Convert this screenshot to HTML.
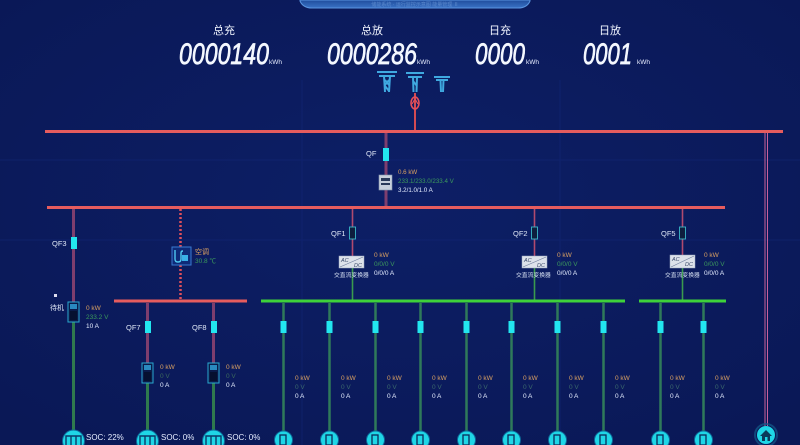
<!DOCTYPE html>
<html><head><meta charset="utf-8">
<style>
html,body{margin:0;padding:0;background:#0b1a5c;}
svg{display:block;}
text{font-family:"Liberation Sans","Noto Sans CJK SC",sans-serif;}
</style></head>
<body>
<svg width="800" height="445" viewBox="0 0 800 445" xmlns="http://www.w3.org/2000/svg">
<defs>
<radialGradient id="bg" cx="50%" cy="45%" r="70%">
<stop offset="0" stop-color="#0d1f66"/><stop offset="1" stop-color="#0a1856"/>
</radialGradient>
<linearGradient id="hdr" x1="0" y1="0" x2="0" y2="1">
<stop offset="0" stop-color="#1f4c9c"/><stop offset="1" stop-color="#3a72c4"/>
</linearGradient>
</defs>
<rect width="800" height="445" fill="url(#bg)"/>
<g stroke="#13287a" stroke-width="1" opacity="0.5">
<line x1="302" y1="80" x2="302" y2="445"/><line x1="0" y1="160" x2="800" y2="160"/>
<line x1="0" y1="240" x2="800" y2="240"/><line x1="560" y1="80" x2="560" y2="445"/>
</g>

<path d="M300,0 L530,0 L530,1 Q527,8 518,8 L312,8 Q303,8 300,1 Z" fill="url(#hdr)" stroke="#5a94e0" stroke-width="1"/>
<text x="415" y="6" font-size="5" fill="#6e9ad8" text-anchor="middle" opacity="0.7">储能系统 · 运行监控示意图 能量管理 Ⅱ</text>

<g fill="#f2f6ff" font-size="11" text-anchor="middle">
<text x="224" y="34">总充</text>
<text x="372" y="34">总放</text>
<text x="500" y="34">日充</text>
<text x="610" y="34">日放</text>
</g>
<g fill="#f4f8ff" font-size="30" font-style="italic" stroke="#f4f8ff" stroke-width="0.7">
<text x="179" y="64" textLength="90" lengthAdjust="spacingAndGlyphs">0000140</text>
<text x="327" y="64" textLength="90" lengthAdjust="spacingAndGlyphs">0000286</text>
<text x="475" y="64" textLength="50" lengthAdjust="spacingAndGlyphs">0000</text>
<text x="583" y="64" textLength="49" lengthAdjust="spacingAndGlyphs">0001</text>
</g>
<g fill="#e8eeff" font-size="6.5">
<text x="269" y="64">kWh</text>
<text x="417" y="64">kWh</text>
<text x="526" y="64">kWh</text>
<text x="637" y="64">kWh</text>
</g>

<g fill="none" stroke="#3fa8e0" stroke-width="2">
<path d="M377,72 L397,72 M379,76 L395,76 M384,76 L385,92 M390,76 L389,92 M385,80 L389,85 M389,80 L385,85 M385,86 L389,91"/>
<path d="M406,73 L424,73 M408,77 L422,77 M413,77 L413.5,92 M417,77 L416.5,92 M413,81 L417,86"/>
<path d="M434,77 L450,77 M436,80 L448,80 M440.5,80 L441,92 M443.5,80 L443,92"/>
</g>
<line x1="415" y1="93" x2="415" y2="131" stroke="#d24a52" stroke-width="2"/>
<ellipse cx="415" cy="103" rx="4" ry="6" fill="none" stroke="#e8505a" stroke-width="1.6"/>
<path d="M412,104 L415,99 L418,104" fill="none" stroke="#e8505a" stroke-width="1.2"/>

<line x1="45" y1="131.5" x2="783" y2="131.5" stroke="#e65c5e" stroke-width="3"/>
<line x1="47" y1="207.5" x2="725" y2="207.5" stroke="#e65c5e" stroke-width="3"/>
<line x1="765" y1="133" x2="765" y2="426" stroke="#c8609a" stroke-width="1"/>
<line x1="767.5" y1="133" x2="767.5" y2="426" stroke="#c8609a" stroke-width="1"/>

<line x1="386" y1="133" x2="386" y2="206" stroke="#7e3e6e" stroke-width="3"/>
<rect x="383" y="148" width="6" height="13" fill="#22e6f0"/>
<text x="366" y="156" font-size="7.5" fill="#e0e8f8">QF</text>
<rect x="379" y="175" width="13" height="15" fill="#c8d0dc" stroke="#8898b0" stroke-width="0.6"/>
<rect x="381" y="178" width="9" height="3" fill="#2a3a5a"/>
<rect x="381" y="183" width="9" height="2" fill="#2a3a5a"/>
<g font-size="6.2">
<text x="398" y="174" fill="#d9a062">0.6 kW</text>
<text x="398" y="183" fill="#3c9a5c">233.1/233.0/233.4 V</text>
<text x="398" y="192" fill="#e4ecff">3.2/1.0/1.0 A</text>
</g>

<line x1="73.5" y1="209" x2="73.5" y2="302" stroke="#7e3e6e" stroke-width="3"/>
<line x1="73.5" y1="322" x2="73.5" y2="430" stroke="#2f7a4e" stroke-width="3"/>
<rect x="71" y="237" width="6" height="12" fill="#22e6f0"/>
<text x="52" y="246" font-size="7.5" fill="#e0e8f8">QF3</text>
<rect x="54" y="294" width="3" height="3" fill="#dde"/>
<text x="50" y="310" font-size="7" fill="#dde4f4">待机</text>
<rect x="68" y="302" width="11" height="20" fill="#0a1a4a" stroke="#2aa8d0" stroke-width="1"/>
<rect x="70" y="304" width="7" height="5" fill="#2a8ac0"/>
<rect x="70" y="311" width="7" height="9" fill="#061030"/>
<g font-size="6.5">
<text x="86" y="310" fill="#d9a062">0 kW</text>
<text x="86" y="319" fill="#3c9a5c">233.2 V</text>
<text x="86" y="328" fill="#e4ecff">10 A</text>
</g>

<line x1="180.5" y1="209" x2="180.5" y2="300" stroke="#e0505a" stroke-width="2.5" stroke-dasharray="2,2"/>
<rect x="172" y="247" width="19" height="18" fill="#0e2a78" stroke="#3a7ad0" stroke-width="1"/>
<path d="M175,250 L175,259 Q175,262 178,262 Q181,262 181,259 L181,253 Q181,251 183,251" fill="none" stroke="#4fc8f0" stroke-width="1.4"/>
<rect x="182" y="255" width="6" height="6" fill="#3ab0e8"/>
<text x="195" y="254" font-size="7" fill="#d9a062">空调</text>
<text x="195" y="263" font-size="6.5" fill="#3c9a5c">30.8 ℃</text>

<line x1="114" y1="301" x2="247" y2="301" stroke="#e65c5e" stroke-width="3"/>
<g>
<line x1="147.5" y1="303" x2="147.5" y2="363" stroke="#7e3e6e" stroke-width="3"/>
<line x1="147.5" y1="383" x2="147.5" y2="430" stroke="#2f7a4e" stroke-width="3"/>
<rect x="145" y="321" width="6" height="12" fill="#22e6f0"/>
<text x="126" y="330" font-size="7.5" fill="#e0e8f8">QF7</text>
<rect x="142" y="363" width="11" height="20" fill="#0a1a4a" stroke="#2aa8d0" stroke-width="1"/>
<rect x="144" y="365" width="7" height="5" fill="#2a8ac0"/>
<rect x="144" y="372" width="7" height="9" fill="#061030"/>
<g font-size="6.5"><text x="160" y="369" fill="#d9a062">0 kW</text><text x="160" y="378" fill="#3c6a5c">0 V</text><text x="160" y="387" fill="#e4ecff">0 A</text></g>
</g>
<g>
<line x1="213.5" y1="303" x2="213.5" y2="363" stroke="#7e3e6e" stroke-width="3"/>
<line x1="213.5" y1="383" x2="213.5" y2="430" stroke="#2f7a4e" stroke-width="3"/>
<rect x="211" y="321" width="6" height="12" fill="#22e6f0"/>
<text x="192" y="330" font-size="7.5" fill="#e0e8f8">QF8</text>
<rect x="208" y="363" width="11" height="20" fill="#0a1a4a" stroke="#2aa8d0" stroke-width="1"/>
<rect x="210" y="365" width="7" height="5" fill="#2a8ac0"/>
<rect x="210" y="372" width="7" height="9" fill="#061030"/>
<g font-size="6.5"><text x="226" y="369" fill="#d9a062">0 kW</text><text x="226" y="378" fill="#3c6a5c">0 V</text><text x="226" y="387" fill="#e4ecff">0 A</text></g>
</g>

<g>
<circle cx="73.5" cy="441" r="11" fill="#1fd6e6" stroke="#0e6a9a" stroke-width="1"/>
<path d="M66,445 L66,436 L81,436 L81,445 M71,436 L71,445 M76,436 L76,445" fill="none" stroke="#0a3a6a" stroke-width="1.4"/>
<circle cx="147.5" cy="441" r="11" fill="#1fd6e6" stroke="#0e6a9a" stroke-width="1"/>
<path d="M140,445 L140,436 L155,436 L155,445 M145,436 L145,445 M150,436 L150,445" fill="none" stroke="#0a3a6a" stroke-width="1.4"/>
<circle cx="213.5" cy="441" r="11" fill="#1fd6e6" stroke="#0e6a9a" stroke-width="1"/>
<path d="M206,445 L206,436 L221,436 L221,445 M211,436 L211,445 M216,436 L216,445" fill="none" stroke="#0a3a6a" stroke-width="1.4"/>
</g>
<g font-size="8" fill="#e4ecff">
<text x="86" y="440">SOC: 22%</text>
<text x="161" y="440">SOC: 0%</text>
<text x="227" y="440">SOC: 0%</text>
</g>

<g>
<line x1="352.5" y1="209" x2="352.5" y2="256" stroke="#b04a6e" stroke-width="1.6"/>
<line x1="352.5" y1="268" x2="352.5" y2="300" stroke="#3a9a4e" stroke-width="1.6"/>
<rect x="349.5" y="227" width="6" height="12" fill="#0e1e3e" stroke="#3ab8c8" stroke-width="0.9"/>
<text x="331" y="236" font-size="7.5" fill="#e0e8f8">QF1</text>
<rect x="339" y="256" width="25" height="12" fill="#dde2ea" stroke="#9aa8c0" stroke-width="0.5"/>
<line x1="340" y1="267" x2="363" y2="257" stroke="#6a7a9a" stroke-width="0.6"/>
<text x="341" y="262" font-size="5.5" fill="#3a4a6a" font-style="italic">AC</text>
<text x="354" y="267" font-size="5.5" fill="#3a4a6a" font-style="italic">DC</text>
<text x="334" y="277" font-size="5.8" fill="#d8e2f4">交直流变换器</text>
<g font-size="6.5"><text x="374" y="257" fill="#d9a062">0 kW</text><text x="374" y="266" fill="#3c9a5c">0/0/0 V</text><text x="374" y="275" fill="#e4ecff">0/0/0 A</text></g>
</g>
<g>
<line x1="534.5" y1="209" x2="534.5" y2="256" stroke="#b04a6e" stroke-width="1.6"/>
<line x1="534.5" y1="268" x2="534.5" y2="300" stroke="#3a9a4e" stroke-width="1.6"/>
<rect x="531.5" y="227" width="6" height="12" fill="#0e1e3e" stroke="#3ab8c8" stroke-width="0.9"/>
<text x="513" y="236" font-size="7.5" fill="#e0e8f8">QF2</text>
<rect x="522" y="256" width="25" height="12" fill="#dde2ea" stroke="#9aa8c0" stroke-width="0.5"/>
<line x1="523" y1="267" x2="546" y2="257" stroke="#6a7a9a" stroke-width="0.6"/>
<text x="524" y="262" font-size="5.5" fill="#3a4a6a" font-style="italic">AC</text>
<text x="537" y="267" font-size="5.5" fill="#3a4a6a" font-style="italic">DC</text>
<text x="516" y="277" font-size="5.8" fill="#d8e2f4">交直流变换器</text>
<g font-size="6.5"><text x="557" y="257" fill="#d9a062">0 kW</text><text x="557" y="266" fill="#3c9a5c">0/0/0 V</text><text x="557" y="275" fill="#e4ecff">0/0/0 A</text></g>
</g>
<g>
<line x1="682.5" y1="209" x2="682.5" y2="256" stroke="#b04a6e" stroke-width="1.6"/>
<line x1="682.5" y1="268" x2="682.5" y2="300" stroke="#3a9a4e" stroke-width="1.6"/>
<rect x="679.5" y="227" width="6" height="12" fill="#0e1e3e" stroke="#3ab8c8" stroke-width="0.9"/>
<text x="661" y="236" font-size="7.5" fill="#e0e8f8">QF5</text>
<rect x="670" y="255" width="25" height="13" fill="#dde2ea" stroke="#9aa8c0" stroke-width="0.5"/>
<line x1="671" y1="267" x2="694" y2="256" stroke="#6a7a9a" stroke-width="0.6"/>
<text x="672" y="261" font-size="5.5" fill="#3a4a6a" font-style="italic">AC</text>
<text x="685" y="266" font-size="5.5" fill="#3a4a6a" font-style="italic">DC</text>
<text x="665" y="277" font-size="5.8" fill="#d8e2f4">交直流变换器</text>
<g font-size="6.5"><text x="704" y="257" fill="#d9a062">0 kW</text><text x="704" y="266" fill="#3c9a5c">0/0/0 V</text><text x="704" y="275" fill="#e4ecff">0/0/0 A</text></g>
</g>

<line x1="261" y1="301" x2="625" y2="301" stroke="#3ed23a" stroke-width="3"/>
<line x1="639" y1="301" x2="726" y2="301" stroke="#3ed23a" stroke-width="3"/>

<g>
<g stroke="#2f7a5a" stroke-width="2.5">
<line x1="283.5" y1="303" x2="283.5" y2="431"/><line x1="329.5" y1="303" x2="329.5" y2="431"/>
<line x1="375.5" y1="303" x2="375.5" y2="431"/><line x1="420.5" y1="303" x2="420.5" y2="431"/>
<line x1="466.5" y1="303" x2="466.5" y2="431"/><line x1="511.5" y1="303" x2="511.5" y2="431"/>
<line x1="557.5" y1="303" x2="557.5" y2="431"/><line x1="603.5" y1="303" x2="603.5" y2="431"/>
<line x1="660.5" y1="303" x2="660.5" y2="431"/><line x1="703.5" y1="303" x2="703.5" y2="431"/>
</g>
<g fill="#22e6f0">
<rect x="280.5" y="321" width="6" height="12"/><rect x="326.5" y="321" width="6" height="12"/>
<rect x="372.5" y="321" width="6" height="12"/><rect x="417.5" y="321" width="6" height="12"/>
<rect x="463.5" y="321" width="6" height="12"/><rect x="508.5" y="321" width="6" height="12"/>
<rect x="554.5" y="321" width="6" height="12"/><rect x="600.5" y="321" width="6" height="12"/>
<rect x="657.5" y="321" width="6" height="12"/><rect x="700.5" y="321" width="6" height="12"/>
</g>
<g font-size="6.5" fill="#d9a062">
<text x="295" y="380">0 kW</text><text x="341" y="380">0 kW</text><text x="387" y="380">0 kW</text><text x="432" y="380">0 kW</text><text x="478" y="380">0 kW</text><text x="523" y="380">0 kW</text><text x="569" y="380">0 kW</text><text x="615" y="380">0 kW</text><text x="670" y="380">0 kW</text><text x="715" y="380">0 kW</text>
</g>
<g font-size="6.5" fill="#3c6a6c">
<text x="295" y="389">0 V</text><text x="341" y="389">0 V</text><text x="387" y="389">0 V</text><text x="432" y="389">0 V</text><text x="478" y="389">0 V</text><text x="523" y="389">0 V</text><text x="569" y="389">0 V</text><text x="615" y="389">0 V</text><text x="670" y="389">0 V</text><text x="715" y="389">0 V</text>
</g>
<g font-size="6.5" fill="#e4ecff">
<text x="295" y="398">0 A</text><text x="341" y="398">0 A</text><text x="387" y="398">0 A</text><text x="432" y="398">0 A</text><text x="478" y="398">0 A</text><text x="523" y="398">0 A</text><text x="569" y="398">0 A</text><text x="615" y="398">0 A</text><text x="670" y="398">0 A</text><text x="715" y="398">0 A</text>
</g>
<g fill="#1fd6e6" stroke="#0e6a9a" stroke-width="1">
<circle cx="283.5" cy="440" r="9"/><circle cx="329.5" cy="440" r="9"/><circle cx="375.5" cy="440" r="9"/><circle cx="420.5" cy="440" r="9"/><circle cx="466.5" cy="440" r="9"/><circle cx="511.5" cy="440" r="9"/><circle cx="557.5" cy="440" r="9"/><circle cx="603.5" cy="440" r="9"/><circle cx="660.5" cy="440" r="9"/><circle cx="703.5" cy="440" r="9"/>
</g>
<g fill="none" stroke="#0a2a5a" stroke-width="1.3">
<rect x="280" y="435" width="6" height="10"/><rect x="326" y="435" width="6" height="10"/><rect x="372" y="435" width="6" height="10"/><rect x="417" y="435" width="6" height="10"/><rect x="463" y="435" width="6" height="10"/><rect x="508" y="435" width="6" height="10"/><rect x="554" y="435" width="6" height="10"/><rect x="600" y="435" width="6" height="10"/><rect x="657" y="435" width="6" height="10"/><rect x="700" y="435" width="6" height="10"/>
</g>
</g>

<circle cx="766" cy="435" r="11" fill="none" stroke="#145a8a" stroke-width="2" opacity="0.7"/>
<circle cx="766" cy="435" r="9" fill="#1fd6e6"/>
<path d="M760,436 L766,430 L772,436 L770,436 L770,441 L762,441 L762,436 Z" fill="#0a3a5a"/>
<rect x="765" y="437" width="2.5" height="4" fill="#1fd6e6"/>
</svg>
</body></html>
